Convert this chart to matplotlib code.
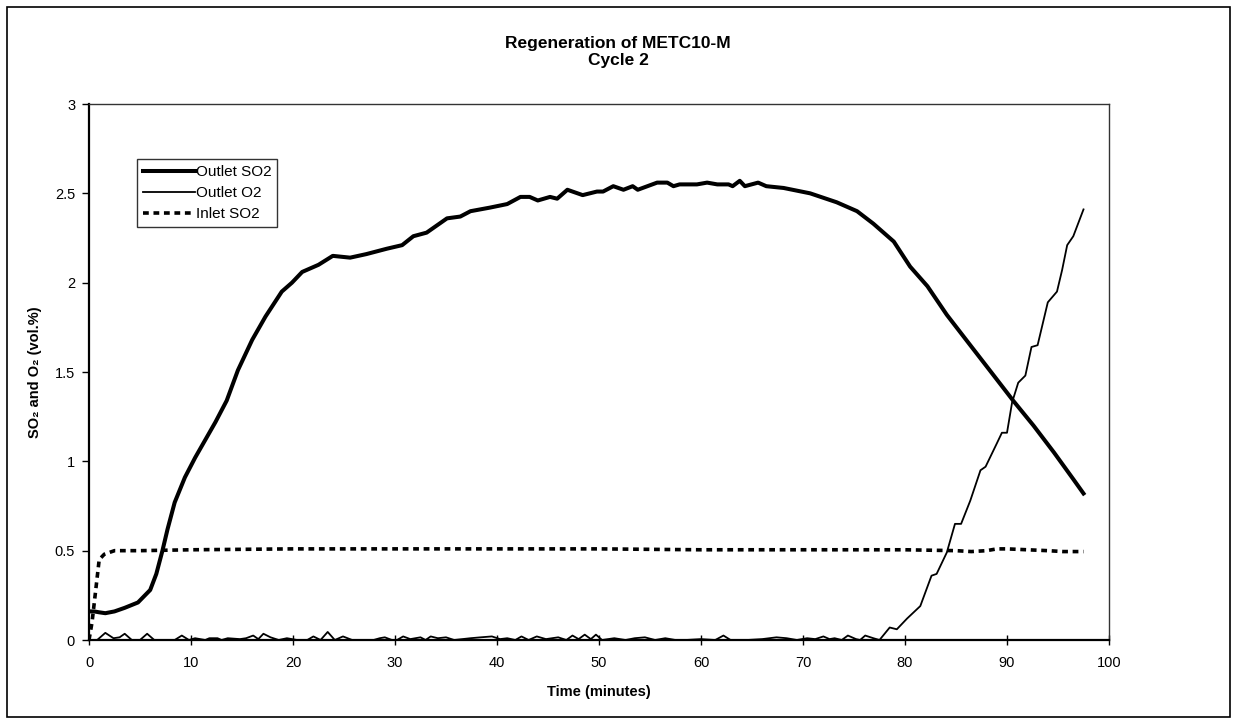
import matplotlib.pyplot as plt
from matplotlib.patches import Rectangle

plt.rcParams['font.family'] = ['Liberation Sans', 'DejaVu Sans']

# Outlet SO2 (vol.%)
so2_out_time = [0, 0.5, 1.0, 1.6, 2.5, 3.5, 4.8, 6.0, 6.6, 7.2,
                7.7, 8.4, 9.4, 10.4, 11.4, 12.4, 13.5, 14.6, 16.0, 17.3,
                18.9, 19.9, 20.9, 22.5, 23.9, 25.6, 27.2, 29.2, 30.7, 31.8,
                33.1, 34.1, 35.1, 36.4, 37.4, 39.3, 41.0, 42.3, 43.2, 44.0,
                45.2, 45.9, 46.9, 48.4, 49.8, 50.4, 51.4, 52.4, 53.3, 53.8,
                55.7, 56.7, 57.3, 57.9, 59.6, 60.6, 61.6, 62.7, 63.1, 63.8,
                64.3, 65.6, 66.4, 68.1, 70.7, 73.3, 75.3, 76.9, 78.9, 80.5,
                82.2, 84.1, 86.4, 88.3, 90.6, 92.6, 94.6, 96.5, 97.5]
so2_out_value = [0.16, 0.16, 0.155, 0.15, 0.16, 0.18, 0.21, 0.28, 0.37, 0.50,
                 0.62, 0.77, 0.91, 1.02, 1.12, 1.22, 1.34, 1.51, 1.68, 1.81,
                 1.95, 2.00, 2.06, 2.10, 2.15, 2.14, 2.16, 2.19, 2.21, 2.26,
                 2.28, 2.32, 2.36, 2.37, 2.40, 2.42, 2.44, 2.48, 2.48, 2.46,
                 2.48, 2.47, 2.52, 2.49, 2.51, 2.51, 2.54, 2.52, 2.54, 2.52,
                 2.56, 2.56, 2.54, 2.55, 2.55, 2.56, 2.55, 2.55, 2.54, 2.57,
                 2.54, 2.56, 2.54, 2.53, 2.50, 2.45, 2.40, 2.33, 2.23, 2.09,
                 1.98, 1.82, 1.65, 1.51, 1.34, 1.20, 1.05, 0.90, 0.82]

# Outlet O2 (vol.%)
o2_out_time = [0, 0.8, 1.6, 2.4, 3.0, 3.5, 4.2, 5.0, 5.7, 6.4,
               8.4, 9.1, 9.8, 10.4, 11.4, 11.8, 12.6, 13.0, 13.6, 14.8,
               15.4, 16.1, 16.6, 17.1, 17.8, 18.6, 19.4, 20.4, 21.4, 22.0,
               22.7, 23.4, 24.1, 24.9, 25.8, 27.9, 28.5, 29.0, 29.7, 30.2,
               30.8, 31.5, 32.5, 33.0, 33.5, 34.2, 35.0, 35.8, 36.6, 37.4,
               38.4, 39.5, 40.3, 41.0, 41.8, 42.4, 43.1, 43.9, 44.8, 46.0,
               46.8, 47.4, 48.0, 48.6, 49.2, 49.7, 50.3, 51.5, 52.6, 53.5,
               54.5, 55.5, 56.5, 57.5, 58.5, 60.0, 61.4, 62.2, 62.9, 64.5,
               66.0, 67.4, 68.4, 69.4, 70.4, 71.2, 72.0, 72.6, 73.1, 73.8,
               74.4, 75.2, 75.6, 76.1, 76.9, 77.5, 78.5, 79.2, 80.2, 81.5,
               82.6, 83.1, 84.1, 84.9, 85.5, 86.4, 87.4, 87.9, 89.0, 89.5,
               90.0, 90.5, 91.1, 91.8, 92.4, 93.0, 94.0, 94.9, 95.4, 95.9,
               96.5, 97.5]
o2_out_value = [0.0, 0.0, 0.04, 0.01, 0.015, 0.035, 0.0, 0.0, 0.035, 0.0,
                0.0, 0.025, 0.0, 0.01, 0.0, 0.01, 0.01, 0.0, 0.01, 0.005,
                0.01, 0.025, 0.005, 0.035, 0.015, 0.0, 0.01, 0.0, 0.0, 0.02,
                0.0, 0.045, 0.0, 0.02, 0.0, 0.0, 0.01, 0.015, 0.0, 0.0,
                0.02, 0.005, 0.015, 0.0, 0.02, 0.01, 0.015, 0.0, 0.005, 0.01,
                0.015, 0.02, 0.005, 0.01, 0.0, 0.02, 0.0, 0.02, 0.005, 0.015,
                0.0, 0.025, 0.005, 0.03, 0.005, 0.03, 0.0, 0.01, 0.0, 0.01,
                0.015, 0.0, 0.01, 0.0, 0.0, 0.005, 0.0, 0.025, 0.0, 0.0,
                0.005, 0.015, 0.01, 0.0, 0.01, 0.005, 0.02, 0.005, 0.01, 0.0,
                0.025, 0.005, 0.0, 0.025, 0.01, 0.0, 0.07, 0.06, 0.12, 0.19,
                0.36, 0.37, 0.49, 0.65, 0.65, 0.78, 0.95, 0.97, 1.10, 1.16,
                1.16, 1.33, 1.44, 1.48, 1.64, 1.65, 1.89, 1.95, 2.07, 2.21,
                2.26, 2.41]

# Inlet SO2 (vol.%)
so2_in_time = [0, 0.3, 0.6, 1.0, 1.5, 2.5, 5, 10, 20, 30,
               40, 50, 60, 70, 80, 85, 86.5, 88, 89, 90,
               92, 94, 95.5, 97.5]
so2_in_value = [0, 0.1, 0.25, 0.45, 0.48, 0.50, 0.50, 0.505, 0.51, 0.51,
                0.51, 0.51, 0.505, 0.505, 0.505, 0.50, 0.495, 0.50, 0.51, 0.51,
                0.505, 0.50, 0.495, 0.495]

x_ticks = [0, 10, 20, 30, 40, 50, 60, 70, 80, 90, 100]
y_ticks = [0, 0.5, 1, 1.5, 2, 2.5, 3]
y_tick_labels = ['0', '0.5', '1', '1.5', '2', '2.5', '3']

W, H = 1236, 724
fig = plt.figure(figsize=(W / 100, H / 100), dpi=100)
ax = fig.add_axes([89 / W, 84 / H, 1020 / W, 536 / H])

ax.plot(so2_out_time, so2_out_value, color='black', lw=2.9,
        solid_joinstyle='round', label='Outlet SO2')
ax.plot(o2_out_time, o2_out_value, color='black', lw=1.3, label='Outlet O2')
ax.plot(so2_in_time, so2_in_value, color='black', lw=2.6,
        linestyle=(0, (1.6, 1.3)), dash_capstyle='butt', label='Inlet SO2')

ax.set_xlim(0, 100)
ax.set_ylim(0, 3)
ax.set_xticks(x_ticks)
ax.set_xticklabels([str(t) for t in x_ticks])
ax.set_yticks(y_ticks)
ax.set_yticklabels(y_tick_labels)
ax.tick_params(axis='x', direction='inout', length=7, width=1, pad=8, labelsize=10.5)
ax.tick_params(axis='y', direction='out', length=5, width=1, pad=5, labelsize=10.5)

for side in ['left', 'bottom']:
    ax.spines[side].set_linewidth(1.6)
for side in ['top', 'right']:
    ax.spines[side].set_linewidth(1.0)
    ax.spines[side].set_color('#333333')

leg = ax.legend(loc='upper left', bbox_to_anchor=(0.047, 0.897), fontsize=11,
                frameon=True, fancybox=False, edgecolor='black',
                handlelength=3.4, handletextpad=0.05, borderpad=0.4,
                labelspacing=0.45, borderaxespad=0)
leg.get_frame().set_linewidth(1.0)

fig.text(0.5, 1 - 52 / H, 'Regeneration of METC10-M\nCycle 2', ha='center',
         va='center', fontsize=12.5, fontweight='bold', linespacing=1.2)
fig.text(599 / W, 1 - 692 / H, 'Time (minutes)', ha='center', va='center',
         fontsize=10.5, fontweight='bold')
fig.text(35 / W, 1 - 372 / H, 'SO\u2082 and O\u2082 (vol.%)', ha='center',
         va='center', rotation=90, fontsize=10.5, fontweight='bold')

fig.patches.append(Rectangle((7 / W, 7 / H), 1223 / W, 710 / H,
                             transform=fig.transFigure, fill=False,
                             lw=1.2, ec='black'))

fig.savefig('out.png', dpi=100)
